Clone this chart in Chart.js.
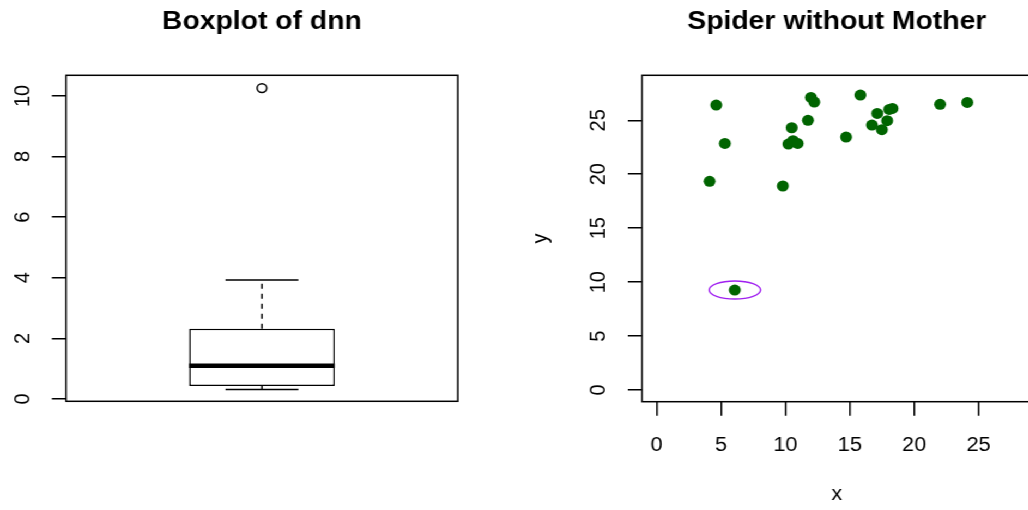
<!DOCTYPE html>
<html>
<head>
<meta charset="utf-8">
<script src="https://cdn.jsdelivr.net/npm/chart.js"></script>
<style>
  html, body { margin: 0; padding: 0; background: #fff; width: 1028px; height: 510px; overflow: hidden; }
  /* the whole figure is drawn a bit narrower, then widened horizontally */
  #stage { position: absolute; left: 0; top: 0; width: 952px; height: 510px; transform-origin: 0 0; transform: scaleX(1.09); }
  .panel { position: absolute; top: 0; }
  #boxChart { left: 0; }
  #spiderChart { left: 472px; }
</style>
</head>
<body>
<div id="stage">
  <canvas id="boxChart" class="panel" width="472" height="510"></canvas>
  <canvas id="spiderChart" class="panel" width="480" height="510"></canvas>
</div>

<script>
    // Boxplot of dnn: five-number summary plus outliers
    const boxLabels = ['dnn'];
    const boxLowerWhisker = [0.31];
    const boxQ1 = [0.43];
    const boxMedian = [1.10];
    const boxQ3 = [2.32];
    const boxUpperWhisker = [3.93];
    const boxOutliers = [10.26];
    const boxYTicks = [0, 2, 4, 6, 8, 10];

    // Spider without Mother: scatter points
    const spiderX = [4.63, 5.30, 4.11, 9.80, 10.49, 10.23, 10.59, 10.95, 11.75, 11.98, 12.24,
                     14.71, 15.82, 16.72, 17.13, 17.49, 17.90, 18.06, 18.31, 22.01, 24.12, 6.07];
    const spiderY = [26.41, 22.86, 19.34, 18.91, 24.31, 22.80, 23.11, 22.86, 25.00, 27.12, 26.69,
                     23.45, 27.34, 24.56, 25.64, 24.13, 24.96, 26.01, 26.10, 26.48, 26.66, 9.27];
    const spiderXTicks = [0, 5, 10, 15, 20, 25];
    const spiderYTicks = [0, 5, 10, 15, 20, 25];

    // ring around the odd point (centre and radii in data units)
    const ringCenter = [6.07, 9.27];
    const ringRadius = [2.0, 0.83];

    const FONT = '"Liberation Sans", Arial, Helvetica, sans-serif';

    // R-style box round the plotting region
    const frame = {
        id: 'frame',
        afterDraw(chart) {
            const { ctx, chartArea: a } = chart;
            ctx.save();
            ctx.strokeStyle = '#000';
            ctx.lineWidth = 1.5;
            ctx.strokeRect(a.left, a.top, a.right - a.left, a.bottom - a.top);
            ctx.restore();
        }
    };

    // tick labels (y ones turned sideways) and axis titles
    const tickText = {
        id: 'tickText',
        afterDraw(chart, args, opts) {
            const { ctx, chartArea: a } = chart;
            ctx.save();
            ctx.fillStyle = '#000';
            ctx.font = '20px ' + FONT;
            ctx.textAlign = 'center';
            ctx.textBaseline = 'alphabetic';

            const ys = chart.scales.y;
            ys.ticks.forEach(t => {
                ctx.save();
                ctx.translate(a.left - 40.8 + 7.2, ys.getPixelForValue(t.value));
                ctx.rotate(-Math.PI / 2);
                ctx.fillText(String(t.value), 0, 0);
                ctx.restore();
            });

            const xs = chart.scales.x;
            if (xs.options.display !== false) {
                xs.ticks.forEach(t => ctx.fillText(String(t.value), xs.getPixelForValue(t.value), 450.6));
            }
            if (opts.xTitle) {
                ctx.fillText(opts.xTitle, (a.left + a.right) / 2, 500);
            }
            if (opts.yTitle) {
                ctx.save();
                ctx.translate(a.left - 86.7, (a.top + a.bottom) / 2);
                ctx.rotate(-Math.PI / 2);
                ctx.fillText(opts.yTitle, 0, 0);
                ctx.restore();
            }
            ctx.restore();
        }
    };

    // median bar and dashed whiskers on top of the box
    const whiskers = {
        id: 'whiskers',
        afterDatasetsDraw(chart) {
            const { ctx } = chart;
            const ys = chart.scales.y;
            const meta = chart.getDatasetMeta(0);
            ctx.save();
            ctx.strokeStyle = '#000';
            meta.data.forEach((bar, i) => {
                const x = bar.x, half = bar.width / 2;
                const yMed = ys.getPixelForValue(boxMedian[i]);
                const yQ1 = ys.getPixelForValue(boxQ1[i]);
                const yQ3 = ys.getPixelForValue(boxQ3[i]);
                const yLo = ys.getPixelForValue(boxLowerWhisker[i]);
                const yHi = ys.getPixelForValue(boxUpperWhisker[i]);

                ctx.lineWidth = 1.5;
                ctx.setLineDash([5, 5]);
                ctx.beginPath();
                ctx.moveTo(x, yQ3); ctx.lineTo(x, yHi);
                ctx.moveTo(x, yQ1); ctx.lineTo(x, yLo);
                ctx.stroke();

                ctx.setLineDash([]);
                ctx.beginPath();
                ctx.moveTo(x - half / 2, yHi); ctx.lineTo(x + half / 2, yHi);
                ctx.moveTo(x - half / 2, yLo); ctx.lineTo(x + half / 2, yLo);
                ctx.stroke();

                ctx.lineWidth = 4.5;
                ctx.beginPath();
                ctx.moveTo(x - half, yMed); ctx.lineTo(x + half, yMed);
                ctx.stroke();
            });
            ctx.restore();
        }
    };

    // purple ellipse marking one point
    const ring = {
        id: 'ring',
        afterDatasetsDraw(chart) {
            const { ctx } = chart;
            const xs = chart.scales.x, ys = chart.scales.y;
            const cx = xs.getPixelForValue(ringCenter[0]);
            const cy = ys.getPixelForValue(ringCenter[1]);
            const rx = Math.abs(xs.getPixelForValue(ringCenter[0] + ringRadius[0]) - cx);
            const ry = Math.abs(ys.getPixelForValue(ringCenter[1] + ringRadius[1]) - cy);
            ctx.save();
            ctx.strokeStyle = '#A020F0';
            ctx.lineWidth = 1.4;
            ctx.beginPath();
            ctx.ellipse(cx, cy, rx, ry, 0, 0, Math.PI * 2);
            ctx.stroke();
            ctx.restore();
        }
    };

    const axisGrid = {
        drawOnChartArea: false,
        drawTicks: true,
        color: '#000',
        lineWidth: 1.5
    };

    const titleOpts = (text) => ({
        display: true,
        text: text,
        fullSize: false,
        color: '#000',
        font: { family: FONT, size: 26, weight: 'bold' },
        padding: { top: 6.6, bottom: 37.5 }
    });

    // Boxplot
    new Chart(document.getElementById('boxChart'), {
        type: 'bar',
        data: {
            labels: boxLabels,
            datasets: [{
                data: boxLabels.map((_, i) => [boxQ1[i], boxQ3[i]]),
                backgroundColor: '#fff',
                borderColor: '#000',
                borderWidth: 1.5,
                borderSkipped: false,
                barPercentage: 0.372,
                categoryPercentage: 1
            }, {
                type: 'line',
                data: boxOutliers,
                showLine: false,
                pointRadius: 4.4,
                pointBorderWidth: 1.5,
                pointBorderColor: '#000',
                pointBackgroundColor: 'rgba(0,0,0,0)'
            }]
        },
        options: {
            responsive: false,
            animation: false,
            events: [],
            layout: { padding: { left: 0, right: 52, top: 0, bottom: 108.7 } },
            scales: {
                x: { display: false },
                y: {
                    min: -0.076,
                    max: 10.68,
                    grid: { ...axisGrid, tickLength: 13 },
                    border: { display: false },
                    ticks: { display: false },
                    afterBuildTicks: (scale) => { scale.ticks = boxYTicks.map(v => ({ value: v })); },
                    afterFit: (scale) => { scale.width = 60.6; }
                }
            },
            plugins: {
                legend: { display: false },
                tooltip: { enabled: false },
                title: titleOpts('Boxplot of dnn'),
                tickText: {}
            }
        },
        plugins: [whiskers, frame, tickText]
    });

    // Scatter
    new Chart(document.getElementById('spiderChart'), {
        type: 'scatter',
        data: {
            datasets: [{
                data: spiderX.map((x, i) => ({ x: x, y: spiderY[i] })),
                pointRadius: 5.5,
                pointBorderWidth: 0,
                pointBackgroundColor: '#006400',
                pointBorderColor: '#006400'
            }]
        },
        options: {
            responsive: false,
            animation: false,
            events: [],
            layout: { padding: { left: 0, right: 3.3, top: 0, bottom: 0 } },
            scales: {
                x: {
                    type: 'linear',
                    min: -1.135,
                    max: 29.12,
                    grid: { ...axisGrid, tickLength: 14 },
                    border: { display: false },
                    ticks: { display: false },
                    afterBuildTicks: (scale) => { scale.ticks = spiderXTicks.map(v => ({ value: v })); },
                    afterFit: (scale) => { scale.height = 108.3; }
                },
                y: {
                    min: -1.08,
                    max: 29.17,
                    grid: { ...axisGrid, tickLength: 13 },
                    border: { display: false },
                    ticks: { display: false },
                    afterBuildTicks: (scale) => { scale.ticks = spiderYTicks.map(v => ({ value: v })); },
                    afterFit: (scale) => { scale.width = 117; }
                }
            },
            plugins: {
                legend: { display: false },
                tooltip: { enabled: false },
                title: titleOpts('Spider without Mother'),
                tickText: { xTitle: 'x', yTitle: 'y' }
            }
        },
        plugins: [ring, frame, tickText]
    });
</script>
</body>
</html>
